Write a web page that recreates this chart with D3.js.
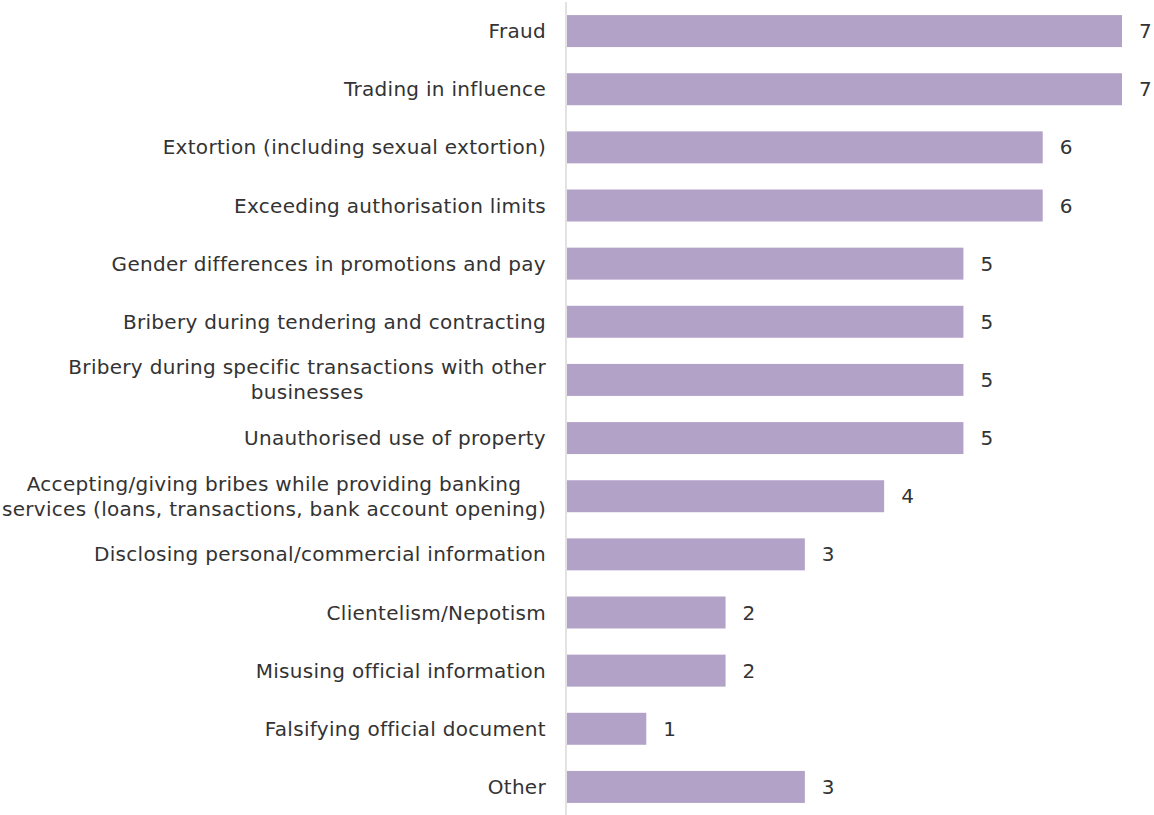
<!DOCTYPE html>
<html>
<head>
<meta charset="utf-8">
<script src="https://cdn.jsdelivr.net/npm/d3@7"></script>
<style>
  html, body { margin: 0; padding: 0; background: #fff; }
  svg { display: block; }
</style>
</head>
<body>
<svg id="chart" width="1154" height="815"></svg>
<script>
const categories = [
  ["Fraud"],
  ["Trading in influence"],
  ["Extortion (including sexual extortion)"],
  ["Exceeding authorisation limits"],
  ["Gender differences in promotions and pay"],
  ["Bribery during tendering and contracting"],
  ["Bribery during specific transactions with other", "businesses"],
  ["Unauthorised use of property"],
  ["Accepting/giving bribes while providing banking", "services (loans, transactions, bank account opening)"],
  ["Disclosing personal/commercial information"],
  ["Clientelism/Nepotism"],
  ["Misusing official information"],
  ["Falsifying official document"],
  ["Other"]
];
const values = [7, 7, 6, 6, 5, 5, 5, 5, 4, 3, 2, 2, 1, 3];

const svg = d3.select("#chart");
const fontFamily = "'DejaVu Sans', sans-serif";
const fontSize = 20;
const letterSpacing = 0.3;
const textColor = "#333333";

const ids = categories.map((c, i) => i);
const y = d3.scaleBand().domain(ids).range([2, 816]).paddingInner(0.45).paddingOuter(0.225);
const x = d3.scaleLinear().domain([0, 7]).range([567, 1122]);

// bars
svg.append("g").selectAll("rect")
  .data(values)
  .join("rect")
  .attr("x", x(0))
  .attr("y", (d, i) => y(i))
  .attr("width", d => x(d) - x(0))
  .attr("height", y.bandwidth())
  .attr("fill", "#b3a2c8");

// axis line
svg.append("line")
  .attr("x1", 566).attr("x2", 566)
  .attr("y1", 2).attr("y2", 815)
  .attr("stroke", "#d9d9d9").attr("stroke-width", 1.5);

// value labels
svg.append("g").selectAll("text")
  .data(values)
  .join("text")
  .attr("x", d => x(d) + 17)
  .attr("y", (d, i) => y(i) + y.bandwidth() / 2)
  .attr("dy", "0.35em")
  .attr("font-family", fontFamily)
  .attr("font-size", fontSize)
  .attr("fill", textColor)
  .text(d => d);

// category labels
const labelRight = 546;
const lineH = 25;
const lg = svg.append("g");
categories.forEach((lines, i) => {
  const cy = y(i) + y.bandwidth() / 2;
  const g = lg.append("g");
  const texts = lines.map((ln, j) => g.append("text")
    .attr("font-family", fontFamily)
    .attr("font-size", fontSize)
    .attr("letter-spacing", letterSpacing)
    .attr("fill", textColor)
    .attr("text-anchor", "middle")
    .attr("y", cy + (j - (lines.length - 1) / 2) * lineH)
    .attr("dy", "0.35em")
    .text(ln));
  const maxW = d3.max(texts, t => t.node().getComputedTextLength());
  texts.forEach(t => t.attr("x", labelRight - maxW / 2));
});
</script>
</body>
</html>
